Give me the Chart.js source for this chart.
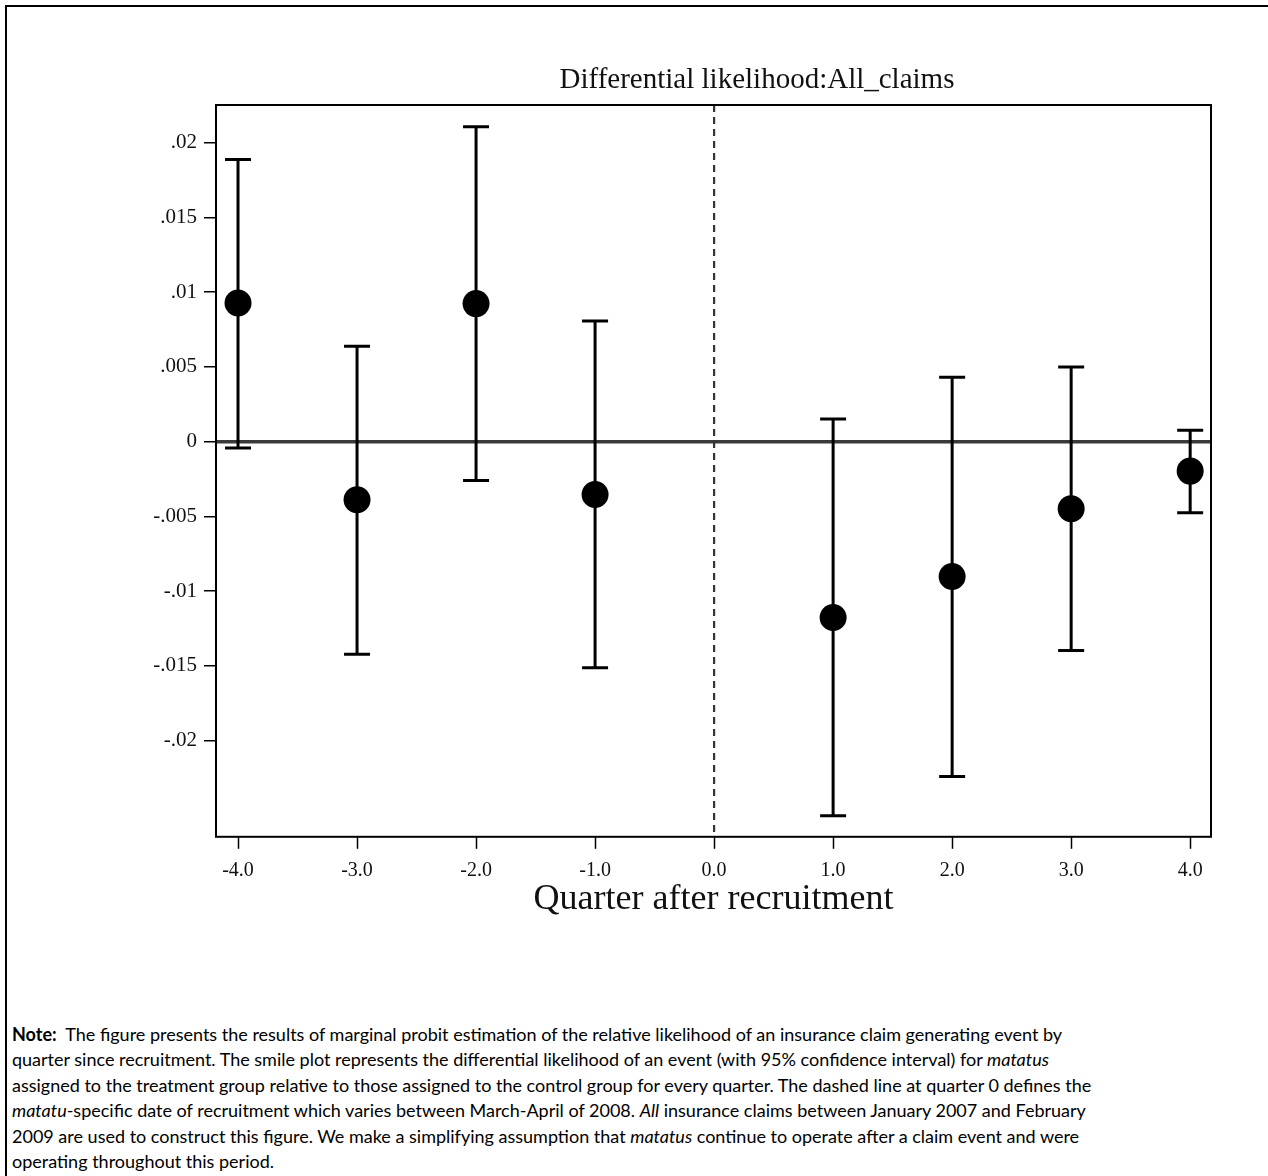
<!DOCTYPE html>
<html>
<head>
<meta charset="utf-8">
<script src="https://cdn.jsdelivr.net/npm/chart.js@4.4.0/dist/chart.umd.min.js"></script>
<style>
  html, body { margin: 0; padding: 0; background: #fff; overflow: hidden; }
  body { width: 1268px; height: 1176px; position: relative; }
  #frame { position: absolute; left: 5px; top: 5px; width: 1300px; height: 1200px; border: 2px solid #000; }
  #title { position: absolute; top: 56px; left: 0; width: 1514px; text-align: center;
           font-family: "Liberation Serif", serif; font-size: 29px; line-height: 44px; color: #111; }
  #wrap { position: absolute; left: 0; top: 0; width: 1268px; height: 960px; }
  #note { position: absolute; left: 12px; top: 1022px; font-family: Lato, sans-serif; font-size: 18px;
          line-height: 25.4px; white-space: nowrap; color: #000; }
</style>
</head>
<body>
<div id="frame"></div>
<div id="wrap"><canvas id="canvas-claims"></canvas></div>
<div id="title">Differential likelihood:All_claims</div>
<div id="note">
  <div><b>Note:</b>&nbsp; The figure presents the results of marginal probit estimation of the relative likelihood of an insurance claim generating event by</div>
  <div>quarter since recruitment. The smile plot represents the differential likelihood of an event (with 95% confidence interval) for <i>matatus</i></div>
  <div>assigned to the treatment group relative to those assigned to the control group for every quarter. The dashed line at quarter 0 defines the</div>
  <div><i>matatu</i>-specific date of recruitment which varies between March-April of 2008. <i>All</i> insurance claims between January 2007 and February</div>
  <div>2009 are used to construct this figure. We make a simplifying assumption that <i>matatus</i> continue to operate after a claim event and were</div>
  <div>operating throughout this period.</div>
</div>
<script>
// quarters relative to recruitment (no estimate at 0)
const quarters = [-4, -3, -2, -1, 1, 2, 3, 4];
const estimates = [0.00928, -0.00389, 0.00924, -0.00353, -0.01177, -0.00902, -0.00449, -0.00197];
const ciLow = [-0.00043, -0.01423, -0.0026, -0.01512, -0.02503, -0.0224, -0.01398, -0.00476];
const ciHigh = [0.01889, 0.00638, 0.02107, 0.00808, 0.00151, 0.00431, 0.005, 0.00076];

const xTicks = [-4, -3, -2, -1, 0, 1, 2, 3, 4];
const yTicks = [-0.02, -0.015, -0.01, -0.005, 0, 0.005, 0.01, 0.015, 0.02];

const serif = "Liberation Serif";

const fmtY = (v) => {
  if (Math.abs(v) < 1e-9) return "0";
  let s = v.toFixed(3).replace(/0+$/, "");
  return s.replace("0.", ".");
};

// whiskers, caps, the dashed recruitment line and the plot frame
const errorBars = {
  id: "errorBars",
  beforeDatasetsDraw(chart) {
    const { ctx, chartArea, scales } = chart;
    const x = scales.x, y = scales.y;
    ctx.save();
    const x0 = x.getPixelForValue(0);
    ctx.strokeStyle = "#333";
    ctx.lineWidth = 2.2;
    ctx.setLineDash([7, 5]);
    ctx.beginPath();
    ctx.moveTo(x0, chartArea.top);
    ctx.lineTo(x0, chartArea.bottom);
    ctx.stroke();
    ctx.setLineDash([]);

    ctx.strokeStyle = "#000";
    ctx.lineWidth = 3;
    quarters.forEach((q, i) => {
      const px = x.getPixelForValue(q);
      const top = y.getPixelForValue(ciHigh[i]);
      const bot = y.getPixelForValue(ciLow[i]);
      ctx.beginPath();
      ctx.moveTo(px, top);
      ctx.lineTo(px, bot);
      ctx.moveTo(px - 13, top);
      ctx.lineTo(px + 13, top);
      ctx.moveTo(px - 13, bot);
      ctx.lineTo(px + 13, bot);
      ctx.stroke();
    });
    ctx.restore();
  },
  afterDraw(chart) {
    const { ctx, chartArea } = chart;
    ctx.save();
    ctx.strokeStyle = "#000";
    ctx.lineWidth = 2;
    ctx.strokeRect(chartArea.left, chartArea.top, chartArea.right - chartArea.left, chartArea.bottom - chartArea.top);
    ctx.restore();
  },
};

const ctx = document.getElementById("canvas-claims").getContext("2d");
const chart = new Chart(ctx, {
  type: "scatter",
  data: {
    datasets: [
      {
        label: "Differential likelihood",
        data: quarters.map((q, i) => ({ x: q, y: estimates[i] })),
        backgroundColor: "#000",
        borderWidth: 0,
        pointRadius: 13.5,
        pointHoverRadius: 13.5,
      },
    ],
  },
  options: {
    responsive: true,
    maintainAspectRatio: false,
    animation: false,
    layout: { padding: { left: 0, right: 57, top: 105, bottom: 35 } },
    plugins: { legend: { display: false }, tooltip: { enabled: false }, title: { display: false } },
    scales: {
      x: {
        type: "linear",
        min: -4.185,
        max: 4.175,
        afterBuildTicks: (scale) => { scale.ticks = xTicks.map((v) => ({ value: v })); },
        ticks: {
          color: "#111",
          padding: 10,
          font: { family: serif, size: 20 },
          callback: (v) => Number(v).toFixed(1),
        },
        grid: { drawOnChartArea: false, tickLength: 12, tickColor: "#000", tickWidth: 1.5 },
        border: { display: false },
        title: {
          display: true,
          text: "Quarter after recruitment",
          color: "#111",
          font: { family: serif, size: 36 },
          padding: { top: -15, bottom: 4 },
        },
      },
      y: {
        type: "linear",
        min: -0.02644,
        max: 0.02253,
        afterBuildTicks: (scale) => { scale.ticks = yTicks.map((v) => ({ value: v })); },
        afterFit: (scale) => { scale.width = 216; },
        ticks: {
          color: "#111",
          padding: 7,
          font: { family: serif, size: 21 },
          callback: (v) => fmtY(v),
        },
        grid: {
          color: (c) => (c.tick && Math.abs(c.tick.value) < 1e-9 ? "#3a3a3a" : "rgba(0,0,0,0)"),
          lineWidth: 3.5,
          tickLength: 12,
          tickColor: "#000",
          tickWidth: 1.5,
        },
        border: { display: false },
      },
    },
  },
  plugins: [errorBars],
});
</script>
</body>
</html>
